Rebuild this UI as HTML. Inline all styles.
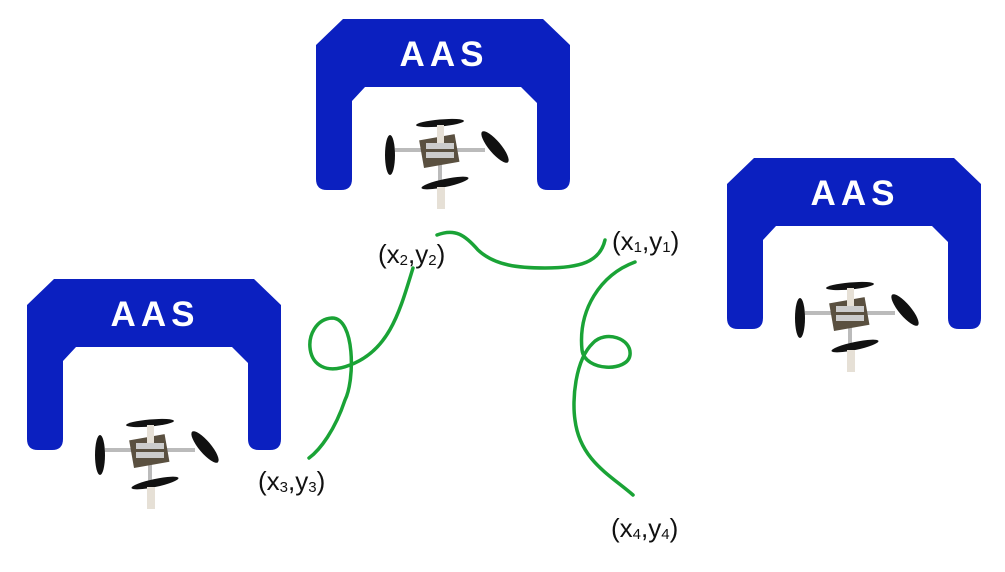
<!DOCTYPE html>
<html><head><meta charset="utf-8"><style>
body{margin:0;background:#fff;width:1005px;height:567px;overflow:hidden}
</style></head><body>
<svg width="1005" height="567" viewBox="0 0 1005 567" xmlns="http://www.w3.org/2000/svg">
<defs>
<g id="hangar">
<path d="M27,0 L227,0 L254,26 L254,160 Q254,171 243,171 L232,171 Q221,171 221,160 L221,84 L205,68 L49,68 L36,82 L36,160 Q36,171 25,171 L11,171 Q0,171 0,160 L0,26 Z" fill="#0b20c0"/>
<text x="128" y="47" text-anchor="middle" font-family="Liberation Sans, sans-serif" font-weight="bold" font-size="35" fill="#fff" letter-spacing="5">AAS</text>
</g>
<g id="drone">
<line x1="-45" y1="-5" x2="45" y2="-5" stroke="#bbb" stroke-width="4"/>
<line x1="0" y1="-25" x2="0" y2="35" stroke="#bbb" stroke-width="4"/>
<rect x="-18" y="-18" width="36" height="28" fill="#5a5040" transform="rotate(-10)"/>
<rect x="-14" y="-12" width="28" height="6" fill="#ccc"/>
<rect x="-14" y="-3" width="28" height="6" fill="#ccc"/>
<ellipse cx="0" cy="-32" rx="24" ry="3.5" fill="#111" transform="rotate(-5 0 -32)"/>
<ellipse cx="-50" cy="0" rx="5" ry="20" fill="#111"/>
<ellipse cx="55" cy="-8" rx="6" ry="20" fill="#111" transform="rotate(-40 55 -8)"/>
<ellipse cx="5" cy="28" rx="24" ry="4" fill="#111" transform="rotate(-12 5 28)"/>
<rect x="-3" y="32" width="8" height="22" fill="#e6e0d6"/>
<rect x="-3" y="-30" width="7" height="18" fill="#e6e0d6"/>
</g>
</defs>
<use href="#hangar" x="316" y="19"/>
<use href="#hangar" x="727" y="158"/>
<use href="#hangar" x="27" y="279"/>
<use href="#drone" x="440" y="155"/>
<use href="#drone" x="850" y="318"/>
<use href="#drone" x="150" y="455"/>
<g fill="none" stroke="#1aa336" stroke-width="3.5" stroke-linecap="round">
<path d="M437,235 C455,228 465,235 478,250 C495,266 520,268 545,268 C580,268 600,262 605,240"/>
<path d="M413,268 C400,310 390,350 350,365 C300,385 300,320 332,318 C355,318 355,380 345,400 C335,430 320,450 309,458"/>
<path d="M635,262 C600,275 578,310 582,350 C585,372 628,372 630,355 C632,338 605,330 593,343 C575,360 572,400 575,420 C580,460 610,475 633,495"/>
</g>
<g font-family="Liberation Sans, sans-serif" font-size="26" fill="#111">
<text x="378" y="263">(x<tspan font-size="15" dy="2">2</tspan><tspan dy="-2">,y</tspan><tspan font-size="15" dy="2">2</tspan><tspan dy="-2">)</tspan></text>
<text x="612" y="250">(x<tspan font-size="15" dy="2">1</tspan><tspan dy="-2">,y</tspan><tspan font-size="15" dy="2">1</tspan><tspan dy="-2">)</tspan></text>
<text x="258" y="490">(x<tspan font-size="15" dy="2">3</tspan><tspan dy="-2">,y</tspan><tspan font-size="15" dy="2">3</tspan><tspan dy="-2">)</tspan></text>
<text x="611" y="537">(x<tspan font-size="15" dy="2">4</tspan><tspan dy="-2">,y</tspan><tspan font-size="15" dy="2">4</tspan><tspan dy="-2">)</tspan></text>
</g>
</svg>
</body></html>
